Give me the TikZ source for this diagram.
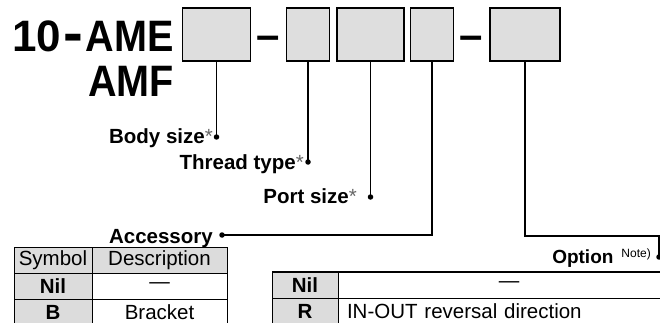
\documentclass[tikz,border=0pt]{standalone}
\usepackage{fontspec}
\setmainfont{Liberation Sans}
\definecolor{boxgray}{RGB}{222,222,222}
\definecolor{cellgray}{RGB}{220,220,220}
\newcommand\lblstar{{\mdseries\color{black!60}*}}
\tikzset{
 pbox/.style={draw, line width=1.6pt, fill=boxgray, inner sep=0pt, outer sep=0pt, minimum height=53pt},
 conn/.style={line width=1.5pt},
 dotnode/.style={circle, fill=black, inner sep=0pt, minimum size=5.5pt},
 lbl/.style={anchor=base east, inner sep=0pt, font=\fontsize{20.5}{20.5}\selectfont\bfseries},
 titletext/.style={anchor=base east, inner sep=0pt, font=\fontsize{44}{44}\selectfont\bfseries},
 dashtext/.style={anchor=base, inner sep=0pt, font=\fontsize{42}{42}\selectfont\bfseries},
 cell/.style={draw, line width=0.9pt, inner sep=0pt, outer sep=0pt, anchor=north west, minimum height=26pt, font=\fontsize{20.5}{20.5}\selectfont},
 gcell/.style={cell, fill=cellgray},
 wcell/.style={cell, fill=white},
}
\begin{document}
\begin{tikzpicture}[x=1pt,y=-1pt]
\useasboundingbox (0,0) rectangle (660,323);
\clip (0,0) rectangle (660,323);
% title
\node[titletext] (t1) at (174,52) {10\hspace{2pt}\raisebox{-1pt}{\scalebox{1.35}[1.3]{-}}\hspace{3pt}\scalebox{0.9}[1]{AME}};
\node[titletext] (t2) at (174,97) {\scalebox{0.9}[1]{AMF}};
% boxes
\node[pbox, minimum width=68pt] (b1) at (216.5,34.5) {};
\node[dashtext] (dash1) at (268,49.5) {–};
\node[pbox, minimum width=43pt] (b2) at (308,34.5) {};
\node[pbox, minimum width=67pt] (b3) at (370.5,34.5) {};
\node[pbox, minimum width=43pt] (b4) at (432,34.5) {};
\node[dashtext] (dash2) at (471.5,49.5) {–};
\node[pbox, minimum width=70pt] (b5) at (525,34.5) {};
% dots
\node[dotnode] (d1) at (216.5,137) {};
\node[dotnode] (d2) at (308,162) {};
\node[dotnode] (d3) at (370.5,197) {};
\node[dotnode] (d4) at (222,235) {};
\node[dotnode] (d5) at (659,257) {};
\coordinate (c5) at (659,236);
% connectors
\draw[conn] (b1.south) -- (d1.center);
\draw[conn] (b2.south) -- (d2.center);
\draw[conn] (b3.south) -- (d3.center);
\draw[conn] (b4.south) |- (d4.center);
\draw[conn] (b5.south) |- (c5) -- (d5.center);
% labels
\node[lbl] (l1) at (213,144) {Body size\lblstar};
\node[lbl] (l2) at (304,169.5) {Thread type\lblstar};
\node[lbl] (l3) at (357,203) {Port size\lblstar};
\node[lbl] (l4) at (213,243) {Accessory};
\node[lbl] (l5) at (651,263) {\fontsize{19}{19}\selectfont Option\hspace{8pt}\raisebox{6pt}{\fontsize{12}{12}\selectfont\mdseries Note)}};
% left table
\node[gcell, minimum width=78pt] (s0) at (14,247) {Symbol};
\node[gcell, minimum width=135pt] (e0) at (92,247) {Description};
\node[gcell, minimum width=78pt] (s1) at (14,273) {\bfseries Nil};
\node[wcell, minimum width=135pt] (e1) at (92,273) {—};
\node[gcell, minimum width=78pt] (s2) at (14,299) {\bfseries B};
\node[wcell, minimum width=135pt] (e2) at (92,299) {Bracket};
% right table
\node[gcell, minimum width=66pt] (r1) at (272,272) {\bfseries Nil};
\node[wcell, minimum width=342pt] (o1) at (338,272) {—};
\node[gcell, minimum width=66pt] (r2) at (272,298) {\bfseries R};
\node[wcell, text width=324pt, inner xsep=9pt, align=left] (o2) at (338,298) {IN-OUT reversal direction};
\draw[line width=1.6pt] (r1.north west) -- (o1.north east);
\end{tikzpicture}
\end{document}
